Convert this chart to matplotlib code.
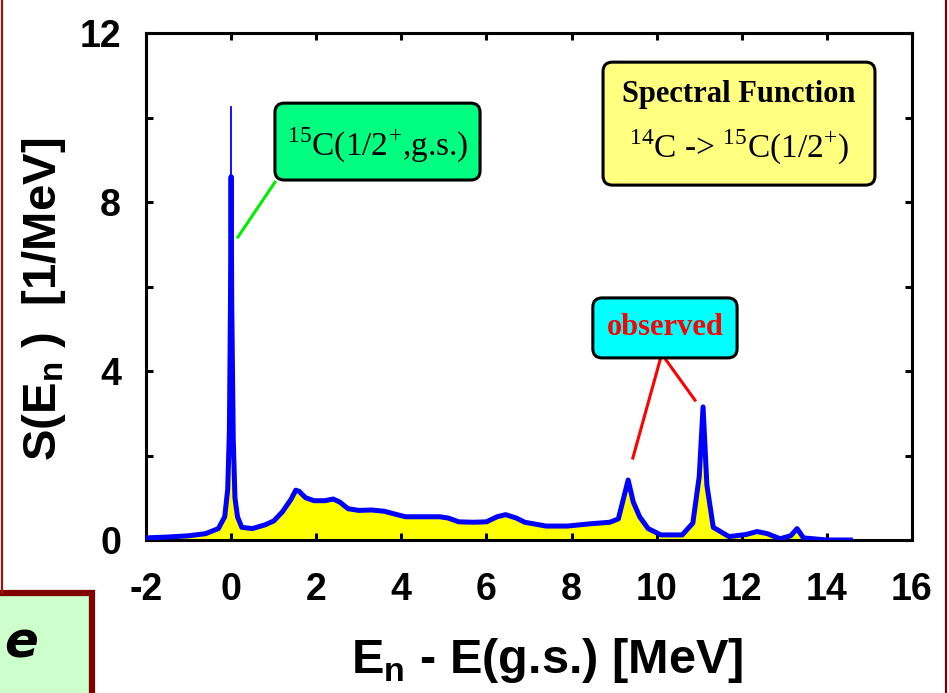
import matplotlib
matplotlib.use("Agg")
import matplotlib.pyplot as plt
from matplotlib import font_manager
from matplotlib.patches import FancyBboxPatch, Rectangle
from matplotlib.lines import Line2D

# Spectral function S(E_n) for 14C -> 15C(1/2+)
energy = [-2.0, -1.5, -1.0, -0.6, -0.3, -0.15, -0.08, -0.04, -0.015, 0.0, 0.015, 0.05,
          0.09, 0.15, 0.25, 0.5, 0.8, 1.0, 1.2, 1.4, 1.52, 1.6, 1.75, 1.95, 2.2, 2.4,
          2.55, 2.75, 3.0, 3.3, 3.6, 3.9, 4.1, 4.5, 4.9, 5.1, 5.35, 5.7, 6.0, 6.25,
          6.45, 6.7, 6.9, 7.4, 7.9, 8.4, 8.9, 9.1, 9.25, 9.33, 9.45, 9.6, 9.8, 10.1,
          10.6, 10.85, 11.0, 11.09, 11.18, 11.33, 11.7, 12.1, 12.36, 12.6, 12.9,
          13.15, 13.3, 13.45, 14.0, 14.55]
strength = [0.05, 0.07, 0.1, 0.15, 0.27, 0.55, 1.2, 2.6, 5.6, 8.6, 5.6, 2.4,
            1.0, 0.55, 0.3, 0.27, 0.36, 0.45, 0.66, 0.95, 1.18, 1.15, 1.0, 0.93, 0.93, 0.97,
            0.9, 0.74, 0.7, 0.71, 0.68, 0.6, 0.55, 0.55, 0.55, 0.52, 0.43, 0.42, 0.43, 0.55,
            0.6, 0.52, 0.42, 0.33, 0.33, 0.38, 0.42, 0.5, 1.1, 1.42, 0.9, 0.55, 0.27, 0.12,
            0.12, 0.4, 1.5, 3.15, 1.3, 0.3, 0.08, 0.13, 0.2, 0.15, 0.03,
            0.1, 0.27, 0.05, 0.0, 0.0]

# narrow ground-state spike above the resolved peak
gs_energy = 0.0
gs_top = 10.25

x_ticks = [-2, 0, 2, 4, 6, 8, 10, 12, 14, 16]
y_ticks = [0, 2, 4, 6, 8, 10, 12]
y_tick_labels = ["0", "", "4", "", "8", "", "12"]

names = {f.name for f in font_manager.fontManager.ttflist}
sans = "Liberation Sans Narrow" if "Liberation Sans Narrow" in names else "Liberation Sans"
serif = "Liberation Serif"

plt.rcParams["axes.unicode_minus"] = False
plt.rcParams["mathtext.fontset"] = "custom"
plt.rcParams["mathtext.rm"] = serif
plt.rcParams["mathtext.bf"] = sans + ":bold"

W, H = 949, 693
fig = plt.figure(figsize=(W / 100, H / 100), dpi=100)
fig.patch.set_facecolor("white")

ax = fig.add_axes([146 / W, 1 - 540 / H, (912 - 146) / W, (540 - 33) / H])
ax.set_xlim(-2, 16)
ax.set_ylim(0, 12)

ax.fill_between(energy, strength, color="#FFFF00", lw=0, zorder=1)
ax.plot(energy, strength, color="#0000FF", lw=3.6, zorder=3)
ax.plot([gs_energy, gs_energy], [max(strength), gs_top], color="#0000FF", lw=1.3, zorder=3)

for s in ax.spines.values():
    s.set_linewidth(2.2)
ax.set_xticks(x_ticks)
ax.set_yticks(y_ticks)
ax.set_yticklabels(y_tick_labels)
ax.tick_params(direction="in", length=5, width=2.2, top=True, right=True)
ax.tick_params(axis="x", pad=23)
ax.tick_params(axis="y", pad=18)
for lab in ax.get_xticklabels() + ax.get_yticklabels():
    lab.set_fontfamily(sans)
    lab.set_fontweight("bold")
    lab.set_fontsize(27)

ax.set_xlabel(r"E$_\mathbf{n}$ - E(g.s.) [MeV]", family=sans, weight="bold",
              fontsize=35, va="center")
ax.xaxis.set_label_coords(0.523, -0.238)
ax.set_ylabel(r"S(E$_\mathbf{n}$ )  [1/MeV]", family=sans, weight="bold",
              fontsize=34, va="center")
ax.yaxis.set_label_coords(-0.133, 0.475)


def label_box(x0, y0, x1, y1, fc):
    box = FancyBboxPatch((x0, y0), x1 - x0, y1 - y0,
                         boxstyle="round,pad=0,rounding_size=0.22",
                         fc=fc, ec="black", lw=2.2, transform=ax.transData,
                         clip_on=False, zorder=5)
    ax.add_patch(box)


# ground-state label
ax.plot([1.03, 0.16], [8.47, 7.17], color="#00EE00", lw=2.2, zorder=4)
label_box(1.03, 8.52, 5.85, 10.34, "#00FF80")
ax.text(3.44, 9.35, r"$^{15}$C(1/2$^{+}$,g.s.)", family=serif, fontsize=24,
        ha="center", va="center", zorder=6)

# title box
label_box(8.74, 8.40, 15.13, 11.31, "#FFFF80")
ax.text(11.93, 10.55, "Spectral Function", family=serif, weight="bold", fontsize=22,
        ha="center", va="center", zorder=6)
ax.text(11.93, 9.3, r"$^{14}$C -> $^{15}$C(1/2$^{+}$)", family=serif, fontsize=24,
        ha="center", va="center", zorder=6)

# observed peaks
ax.plot([10.08, 9.44], [4.26, 1.94], color="#FF0000", lw=2.2, zorder=4)
ax.plot([10.22, 10.90], [4.26, 3.31], color="#FF0000", lw=2.2, zorder=4)
label_box(8.50, 4.31, 11.89, 5.73, "#00FFFF")
ax.text(10.2, 5.02, "observed", family=serif, weight="bold", fontsize=22,
        color="#FF0000", ha="center", va="center", zorder=6)

# slide frame pieces around the plot
fig.add_artist(Line2D([1.5 / W, 1.5 / W], [1 - 593 / H, 1], color="#A01010", lw=1.6))
fig.add_artist(Line2D([945.5 / W, 945.5 / W], [0, 1], color="#800000", lw=1.6))
fig.add_artist(Rectangle((-10 / W, -10 / H), 102 / W, (693 - 593 + 10) / H,
                         fc="#CCFFCC", ec="#800000", lw=4.5, transform=fig.transFigure))
fig.text(4 / W, 1 - 643 / H, "e", family="DejaVu Sans", weight="bold", style="italic",
         fontsize=36, ha="left", va="center")

fig.savefig("out.png", dpi=100)
